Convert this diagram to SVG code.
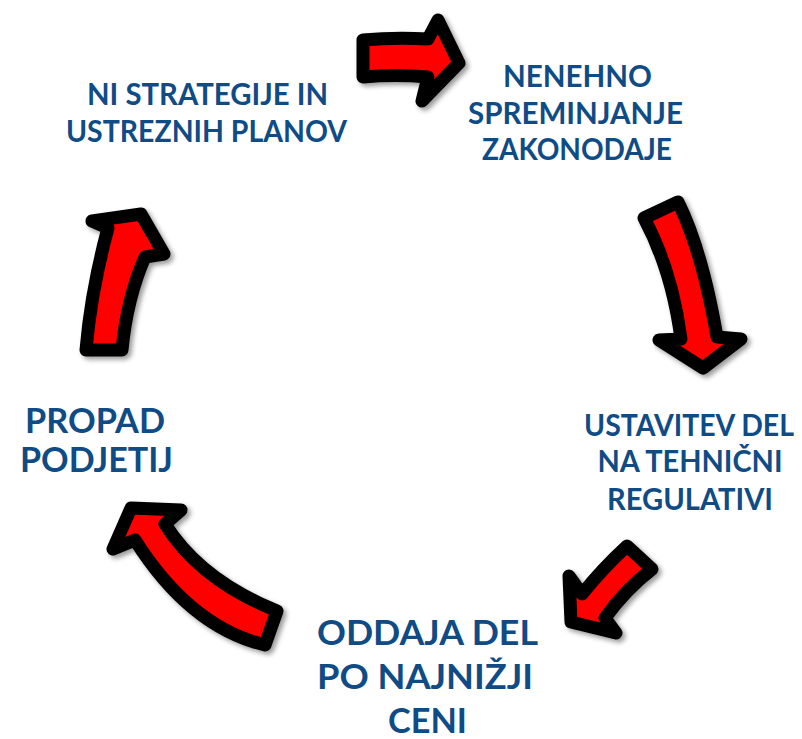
<svg xmlns="http://www.w3.org/2000/svg" width="802" height="739" viewBox="0 0 802 739">
<defs>
<filter id="sh" x="-30%" y="-30%" width="160%" height="160%">
<feGaussianBlur in="SourceAlpha" stdDeviation="2.5"/>
<feOffset dx="3" dy="3" result="b"/>
<feComponentTransfer><feFuncA type="linear" slope="0.4"/></feComponentTransfer>
<feMerge><feMergeNode/><feMergeNode in="SourceGraphic"/></feMerge>
</filter>
<style>
.arr{fill:#FF0000;stroke:#000;stroke-width:13;stroke-linejoin:round;filter:url(#sh)}
.t{font-family:Lato,"Open Sans","Liberation Sans",sans-serif;font-weight:bold;fill:#0F4C86;text-anchor:middle}
.s{font-size:30px}
.b{font-size:35px}
</style>
</defs>
<g id="connectors">
<path class="arr" d="M363,40 Q395,37 428,39 L438,20 L459,63 L422,101 L428,77 Q395,74 363,77 Z"/>
<path class="arr" d="M644,218 L678,202 Q702,250 717,337 L741,339 L703,368 L659,340 L681,339 Q672,270 644,218 Z"/>
<path class="arr" d="M627,546 L652,569 Q625,590 605,618 L616,633 L571,622 L569,576 L582,594 Q603,568 627,546 Z"/>
<path class="arr" d="M277,611 L265,645 Q190,627 135,540 L113,549 L131,508 L181,510 L165,524 Q200,580 277,611 Z"/>
<path class="arr" d="M86,350 L122,350 Q127,298 145,257 L164,254 L141,214 L92,221 L108,228 Q91,291 86,350 Z"/>
</g>
<g id="n1">
<text class="t s" x="207.5" y="105" textLength="241" lengthAdjust="spacingAndGlyphs">NI STRATEGIJE IN</text>
<text class="t s" x="206.5" y="142" textLength="281" lengthAdjust="spacingAndGlyphs">USTREZNIH PLANOV</text>
</g>
<g id="n2">
<text class="t s" x="577.5" y="87" textLength="149" lengthAdjust="spacingAndGlyphs">NENEHNO</text>
<text class="t s" x="575.5" y="124" textLength="215" lengthAdjust="spacingAndGlyphs">SPREMINJANJE</text>
<text class="t s" x="577" y="160" textLength="190" lengthAdjust="spacingAndGlyphs">ZAKONODAJE</text>
</g>
<g id="n3">
<text class="t s" x="689" y="436" textLength="210" lengthAdjust="spacingAndGlyphs">USTAVITEV DEL</text>
<text class="t s" x="690" y="472" textLength="185" lengthAdjust="spacingAndGlyphs">NA TEHNIČNI</text>
<text class="t s" x="690" y="510" textLength="166" lengthAdjust="spacingAndGlyphs">REGULATIVI</text>
</g>
<g id="n4">
<text class="t b" x="427.5" y="645" textLength="221" lengthAdjust="spacingAndGlyphs">ODDAJA DEL</text>
<text class="t b" x="425" y="689" textLength="216" lengthAdjust="spacingAndGlyphs">PO NAJNIŽJI</text>
<text class="t b" x="427.5" y="733" textLength="79" lengthAdjust="spacingAndGlyphs">CENI</text>
</g>
<g id="n5">
<text class="t b" x="95" y="433" textLength="140" lengthAdjust="spacingAndGlyphs">PROPAD</text>
<text class="t b" x="96.5" y="472" textLength="153" lengthAdjust="spacingAndGlyphs">PODJETIJ</text>
</g>
</svg>
